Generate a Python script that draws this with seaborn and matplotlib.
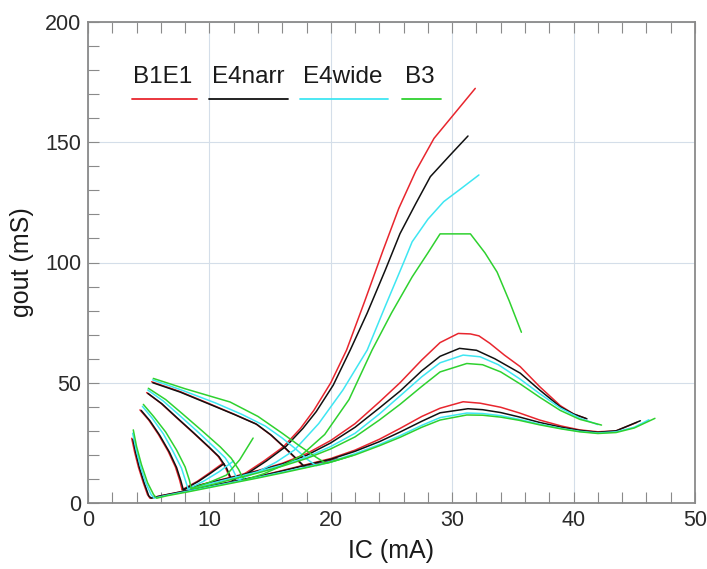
import matplotlib
matplotlib.use("Agg")
import matplotlib.pyplot as plt
import numpy as np
import pandas as pd
import seaborn as sns
from matplotlib.ticker import MultipleLocator

# ---------------- data ----------------
DEVICES = ["B1E1", "E4narr", "E4wide", "B3"]
COLORS = ["#e8262e", "#111111", "#3ee6f2", "#2fd12f"]

# each device: 5 traces (IC in mA, gout in mS)
B1E1_IC = [
    [3.6, 3.85, 4.15, 4.55, 4.9, 5.1, 6, 8, 10, 12, 14, 16, 18, 20, 22, 24, 25.7, 27.5, 29, 30.9, 32.3, 34, 35.5, 37.2, 39, 40.5, 42, 43.5, 45.2],
    [4.28, 5.0, 5.8, 6.6, 7.2, 7.55, 7.75, 8, 10, 12, 14, 16, 18, 20, 22, 24, 25.7, 27.5, 29, 30.5, 31.5, 32.2, 33.1, 34.3, 35.6, 37.2, 38.9, 40, 41.0],
    [4.83, 6, 7.2, 8.6, 9.9, 10.7, 11.3, 11.6, 11.8, 13, 14.5, 16.1, 17.5, 18.6, 20, 21.3, 22.8, 24.3, 25.6, 27, 28.5, 30.2, 31.9],
    [5.24, 7.5, 9.9, 12, 13.8, 15, 16.1, 17.2, 17.8, 19, 20.5],
    [7.75, 9, 10, 11.1],
]
B1E1_G = [
    [26.9, 21, 15, 8.5, 3.5, 2, 3, 5, 7, 9, 11, 13.5, 16, 18.5, 22, 26.5, 31, 36, 39.4, 42.1, 41.5, 39.8, 37.5, 34.5, 32, 30.4, 29.6, 30, 33.5],
    [38.7, 34.5, 28.5, 21.5, 15, 9.5, 5.5, 6, 8.5, 11, 13.5, 16.5, 20.5, 26, 33, 42, 50, 59.5, 66.7, 70.5, 70.3, 69.5, 66.4, 61.5, 56.7, 48.4, 40.5, 37, 35.2],
    [45.9, 41.5, 35.9, 29.5, 23.4, 19.5, 15, 11.5, 9.5, 12.5, 17.5, 23.4, 31, 38.5, 50, 63.6, 84, 105, 122.5, 138, 151.6, 162, 172.4],
    [50.4, 46.5, 41.5, 37, 33, 28.5, 23.4, 18, 15, 16.5, 18.5],
    [5.5, 9, 12.5, 16.5],
]

E4NARR_IC = [
    [3.7, 3.95, 4.25, 4.65, 5.0, 5.2, 6, 8, 10, 12, 14, 16, 18, 20, 22, 24, 25.7, 27.5, 29, 31.3, 32.5, 34, 35.5, 37.2, 39, 40.5, 42, 43.5, 45.5],
    [4.38, 5.1, 5.9, 6.7, 7.3, 7.65, 7.85, 8.1, 10, 12, 14, 16, 18, 20, 22, 24, 25.7, 27.5, 29, 30.6, 32, 33.5, 35.6, 37.2, 38.9, 40, 41.1],
    [4.93, 6.1, 7.3, 8.7, 10.0, 10.8, 11.4, 11.7, 11.9, 13.2, 14.7, 16.3, 17.7, 18.8, 20.2, 21.6, 23, 24.5, 25.7, 27, 28.2, 29.8, 31.3],
    [5.34, 7.6, 10.0, 12.1, 13.9, 15.1, 16.2, 17.3, 17.9, 19.1, 20.6],
    [7.85, 9.1, 10.1, 11.2],
]
E4NARR_G = [
    [26.5, 20.5, 14.5, 8, 3, 2, 3, 5, 7, 9, 11, 13.3, 15.8, 18.2, 21.5, 25.5, 29.5, 34, 37.5, 39.2, 38.8, 37.6, 35.8, 33.5, 31.5, 30.2, 29.4, 30, 34.2],
    [38.5, 34.2, 28.2, 21.2, 14.7, 9.2, 5.5, 6, 8.4, 10.8, 13.3, 16.2, 19.8, 25, 31.5, 39.5, 46.5, 55, 61, 64.3, 63.5, 60, 54, 47, 40, 37, 35],
    [45.6, 41.2, 35.6, 29.2, 23.1, 19.2, 14.7, 11.2, 9.4, 12.5, 17.5, 23.5, 31, 38, 49, 63.6, 79, 97, 112, 124.5, 135.7, 144.5, 152.6],
    [50, 46.1, 41.1, 36.7, 32.7, 28.2, 23.1, 17.8, 14.8, 16.3, 18.2],
    [5.5, 9, 12.4, 16.3],
]

E4WIDE_IC = [
    [3.68, 3.95, 4.3, 4.75, 5.2, 5.45, 6.3, 8, 10, 12, 14, 16, 18, 20, 22, 24, 25.7, 27.5, 29, 31.2, 32.5, 34, 35.5, 37.2, 39, 40.5, 42, 43.5, 45, 46.2],
    [4.48, 5.3, 6.2, 7.0, 7.7, 8.05, 8.25, 8.6, 10, 12, 14, 16, 18, 20, 22, 24, 25.7, 27.5, 29, 30.9, 32.3, 33.8, 35.6, 37.2, 38.9, 40.5, 42],
    [4.92, 6.2, 7.5, 9.0, 10.4, 11.3, 11.9, 12.2, 12.4, 14, 15.5, 17, 19, 21, 23, 24.5, 26, 26.7, 28, 29.3, 30.8, 32.2],
    [5.32, 7.8, 10.5, 12.7, 14.6, 16, 17.1, 18.1, 18.8, 20, 21.3],
    [8.25, 9.5, 10.8, 12],
]
E4WIDE_G = [
    [29, 22.5, 15.5, 8.5, 3.5, 2, 3, 4.7, 6.7, 8.7, 10.7, 12.8, 15, 17.3, 20.5, 24.3, 28, 32.3, 35.5, 37.4, 37.2, 36.3, 34.8, 32.8, 31, 29.8, 29.1, 29.6, 31.5, 34.6],
    [40.2, 35.2, 28.8, 21.5, 14.5, 9, 5.8, 6, 8, 10.5, 13, 15.8, 19, 23.5, 29, 37, 44.5, 52.5, 58.3, 61.5, 60.8, 57.5, 51.5, 45.5, 39.5, 35.3, 32.6],
    [47, 42.4, 36.6, 29.8, 23.2, 18.8, 14.2, 11, 9.6, 13, 17, 22, 33, 47, 63.6, 82, 100, 108.6, 118, 125.3, 131, 136.4],
    [51.2, 46.8, 41.6, 36.8, 32, 27, 22.5, 18, 15.5, 17, 19],
    [5.8, 9, 13, 17.5],
]

B3_IC = [
    [3.73, 4.0, 4.4, 4.9, 5.4, 5.66, 6.5, 8.2, 10, 12, 14, 16, 18, 20, 22, 24, 25.7, 27.5, 29, 31.2, 32.5, 34, 35.5, 37.2, 39, 40.5, 42, 43.5, 45, 46.7],
    [4.56, 5.4, 6.4, 7.3, 8.0, 8.35, 8.5, 9, 10.5, 12, 14, 16, 18, 20, 22, 24, 25.7, 27.5, 29, 31.2, 32.5, 34, 35.6, 37.2, 38.9, 40.5, 42.3],
    [4.97, 6.4, 7.8, 9.4, 10.9, 11.8, 12.4, 12.7, 12.9, 14.5, 16, 17.5, 19.5, 21.5, 23.4, 25, 26.7, 28, 29, 31.5, 32.7, 33.7, 34.7, 35.7],
    [5.38, 8, 11.7, 14, 16, 17.5, 18.8, 19.6, 20.5, 21.8],
    [8.5, 10, 11.4, 12.5, 13.6],
]
B3_G = [
    [30.4, 23.5, 16, 8.5, 3.5, 2, 3, 4.6, 6.4, 8.4, 10.4, 12.5, 14.7, 17, 20, 23.8, 27.3, 31.5, 34.5, 36.6, 36.5, 35.7, 34.4, 32.5, 30.8, 29.6, 28.9, 29.3, 31.2, 35.2],
    [41, 36, 29.5, 22, 15, 9.5, 6, 6.2, 8, 10, 12.5, 15.3, 18.5, 22.5, 27.5, 34.5, 41, 48.5, 54.5, 58, 57.5, 54.5, 49.5, 44, 38.5, 34.8, 32.4],
    [47.7, 43, 37, 30, 23.3, 18.6, 14, 11, 9.6, 12.2, 15.5, 19.5, 28.5, 43, 63.6, 79, 94, 104, 111.9, 111.9, 104, 96, 84, 71],
    [51.8, 47.5, 42, 36, 29, 23.5, 19, 16.5, 17.8, 19.8],
    [6, 8.6, 11.6, 18, 27],
]

X_TICKS = [0, 10, 20, 30, 40, 50]
Y_TICKS = [0, 50, 100, 150, 200]
X_LABEL = "IC (mA)"
Y_LABEL = "gout (mS)"

# ---------------- build table ----------------
rows = []
for dev, ics, gs in zip(DEVICES, [B1E1_IC, E4NARR_IC, E4WIDE_IC, B3_IC],
                        [B1E1_G, E4NARR_G, E4WIDE_G, B3_G]):
    for k, (xs, ys) in enumerate(zip(ics, gs)):
        for i, (x, y) in enumerate(zip(xs, ys)):
            rows.append({"device": dev, "curve": f"{dev}-{k}", "ic": x, "g": y, "i": i})
df = pd.DataFrame(rows)

# ---------------- plot ----------------
sns.set_theme(style="white")
plt.rcParams["font.family"] = ["Liberation Sans", "DejaVu Sans"]

W, H = 707, 569
fig = plt.figure(figsize=(W / 100, H / 100), dpi=100)
ax = fig.add_axes([88 / W, 1 - 503 / H, 607 / W, 481 / H])

for dev, col in zip(DEVICES, COLORS):
    sub = df[df["device"] == dev]
    sns.lineplot(data=sub, x="ic", y="g", units="curve", estimator=None,
                 sort=False, color=col, lw=1.1, ax=ax, legend=False)

ax.set_xlim(0, 50)
ax.set_ylim(0, 200)
ax.set_xticks(X_TICKS)
ax.set_yticks(Y_TICKS)
ax.set_xticklabels([str(t) for t in X_TICKS])
ax.set_yticklabels([str(t) for t in Y_TICKS])
ax.xaxis.set_minor_locator(MultipleLocator(2))
ax.yaxis.set_minor_locator(MultipleLocator(10))
ax.set_axisbelow(True)
ax.grid(True, which="major", color="#d4dee9", lw=0.8)

for s in ax.spines.values():
    s.set_color("#8a8a8a")
    s.set_linewidth(1.3)

ax.tick_params(axis="both", which="both", direction="in", color="#8a8a8a",
               width=0.8, length=8, labelsize=15.5, labelcolor="#2a2a2a",
               top=True, right=False, left=True, bottom=True)
ax.tick_params(axis="y", which="both", pad=5)
ax.tick_params(axis="x", which="both", pad=5)

ax.set_xlabel(X_LABEL, fontsize=18, color="#1a1a1a", labelpad=6)
ax.set_ylabel(Y_LABEL, fontsize=18, color="#1a1a1a", labelpad=8)

# custom legend at top
leg_text_x = [0.0746, 0.2038, 0.3547, 0.5222]
leg_line_x = [(0.072, 0.179), (0.1998, 0.330), (0.349, 0.4947), (0.5168, 0.5815)]
for name, col, tx, (l0, l1) in zip(DEVICES, COLORS, leg_text_x, leg_line_x):
    ax.text(tx, 0.8726, name, transform=ax.transAxes, fontsize=17.5,
            color="#1a1a1a", ha="left", va="baseline")
    ax.plot([l0, l1], [0.8393, 0.8393], transform=ax.transAxes, color=col, lw=1.3)

fig.savefig("out.png", dpi=100)
